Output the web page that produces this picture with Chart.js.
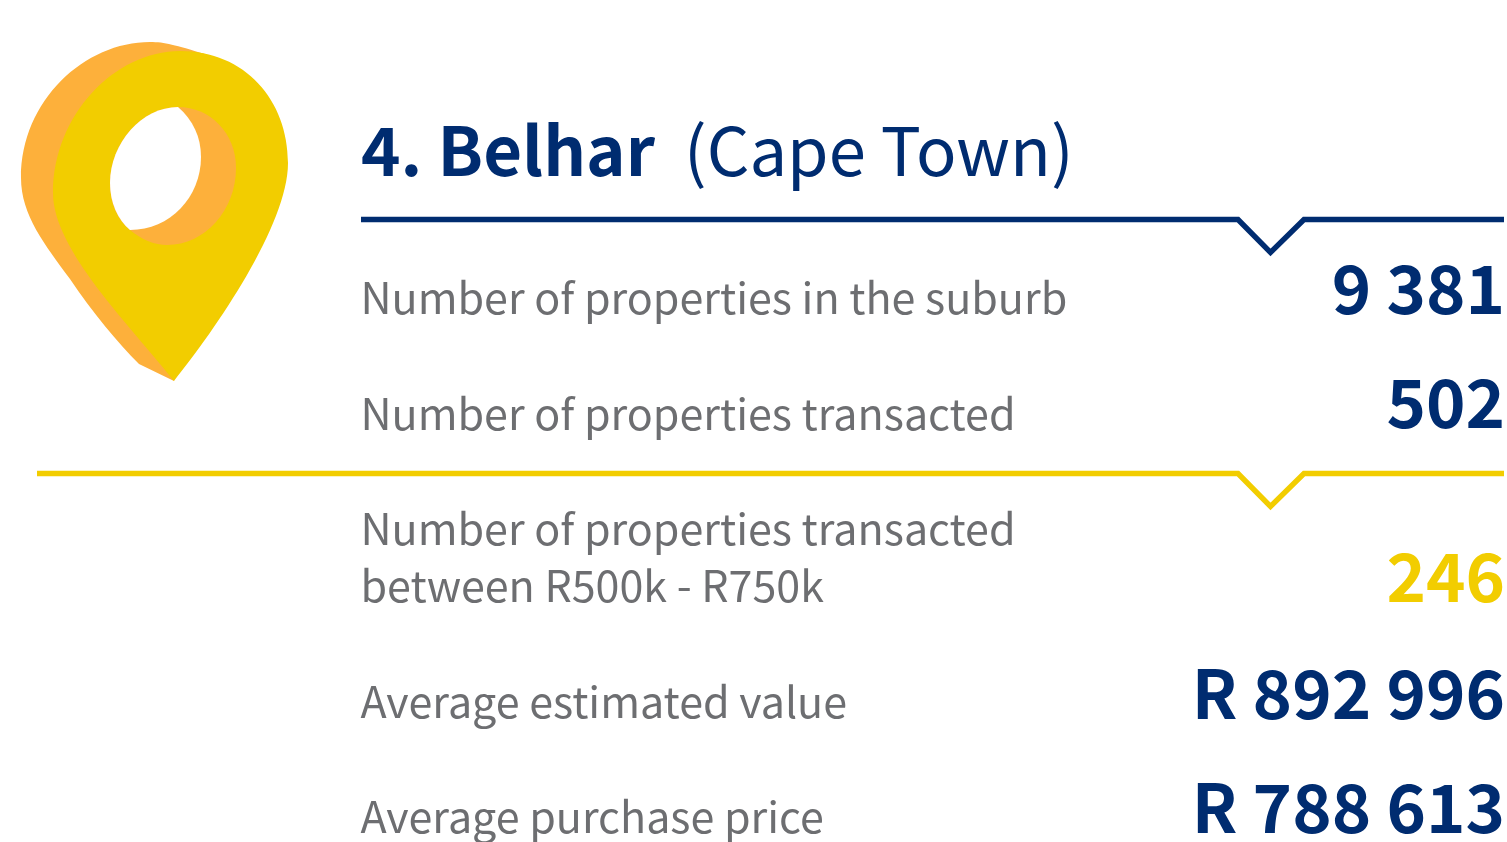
<!DOCTYPE html>
<html>
<head>
<meta charset="utf-8">
<title>Belhar (Cape Town)</title>
<style>
    html, body { margin: 0; padding: 0; background: #ffffff; }
    canvas { display: block; }
</style>
<script src="https://cdn.jsdelivr.net/npm/chart.js@4/dist/chart.umd.min.js"></script>
</head>
<body>
<canvas id="suburbChart" width="1507" height="842"></canvas>
<script>
// data
const titleBold = "4. Belhar";
const titleLight = "(Cape Town)";
const rowLabels = [
    ["Number of properties in the suburb"],
    ["Number of properties transacted"],
    ["Number of properties transacted", "between R500k - R750k"],
    ["Average estimated value"],
    ["Average purchase price"]
];
const rowValues = [9381, 502, 246, 892996, 788613];
const rowIsRand = [false, false, false, true, true];

// layout, in canvas pixels (the y scale below runs 0-842 so values map 1:1)
const labelBaselines = [314, 430, 602, 718, 833];
const valueBaselines = [314, 428, 602, 719, 833];
const lineHeight = 57;
const NAVY = "#002c70";
const YELLOW = "#f2cd00";
const ORANGE = "#fdb03b";
const GREY = "#6d6e71";
const FONT = '"Noto Sans CJK SC", "Noto Sans", sans-serif';

function formatValue(value, isRand) {
    let text = String(value).replace(/\B(?=(\d{3})+$)/g, " ");
    return isRand ? "R " + text : text;
}

function drawDivider(ctx, left, y, color) {
    ctx.beginPath();
    ctx.moveTo(left, y);
    ctx.lineTo(1238, y);
    ctx.lineTo(1270.5, y + 33);
    ctx.lineTo(1304, y);
    ctx.lineTo(1504, y);
    ctx.strokeStyle = color;
    ctx.lineWidth = 5.4;
    ctx.lineJoin = "miter";
    ctx.stroke();
}

function drawPin(ctx) {
    ctx.fillStyle = ORANGE;
    ctx.fill(new Path2D("M174,381 L139,364 C118,343 92,312 70,279 C45,245 21,215 21,178 C21,100 85,42 150,42 C165,42 175,45 205,54 Z"));
    ctx.fillStyle = YELLOW;
    ctx.fill(new Path2D("M174,381 C130,325 53,250 53,193 C53,115 115,51 180,51 C245,51 288,100 288,163 C288,225 215,330 174,381 Z"));
    ctx.fillStyle = ORANGE;
    ctx.fill(new Path2D("M178,107 C142,107 110,143 110,183 C110,205 118,220 130,230 C142,240 155,245 167,245 C205,245 236,210 236,168 C236,133 210,107 178,107 Z"));
    ctx.fillStyle = "#ffffff";
    ctx.fill(new Path2D("M178,107 C142,107 110,143 110,183 C110,203 118,220 130,230 C170,230 201,197 201,157 C201,137 193,120 178,107 Z"));
}

const panelPlugin = {
    id: "panel",
    afterDatasetsDraw(chart) {
        let ctx = chart.ctx;
        let yScale = chart.scales.y;
        ctx.save();
        drawPin(ctx);

        ctx.textBaseline = "alphabetic";
        ctx.textAlign = "left";
        ctx.fillStyle = NAVY;
        ctx.font = "bold 67px " + FONT;
        ctx.fillText(titleBold, 361, 176);
        ctx.font = "normal 67px " + FONT;
        ctx.fillText(titleLight, 684, 176);

        drawDivider(ctx, 361, 219.5, NAVY);
        drawDivider(ctx, 37, 473.5, YELLOW);

        chart.data.datasets[0].data.forEach((point, index) => {
            let lines = rowLabels[index];
            let lastLine = labelBaselines[index];
            ctx.textAlign = "left";
            ctx.fillStyle = GREY;
            ctx.font = "normal 43px " + FONT;
            lines.forEach((line, lineIndex) => {
                let y = yScale.getPixelForValue(lastLine - (lines.length - 1 - lineIndex) * lineHeight);
                ctx.fillText(line, 360.5, y);
            });
            ctx.textAlign = "right";
            ctx.fillStyle = index === 2 ? YELLOW : NAVY;
            ctx.font = "bold 67px " + FONT;
            ctx.fillText(formatValue(point.x, rowIsRand[index]), 1505, yScale.getPixelForValue(point.y));
        });
        ctx.restore();
    }
};

new Chart(document.getElementById("suburbChart"), {
    type: "scatter",
    data: {
        datasets: [{
            label: titleBold,
            data: rowValues.map((value, index) => ({x: value, y: valueBaselines[index]})),
            pointRadius: 0
        }]
    },
    options: {
        responsive: false,
        animation: false,
        layout: {padding: 0},
        scales: {
            x: {type: "logarithmic", display: false},
            y: {min: 0, max: 842, reverse: true, display: false}
        },
        plugins: {
            legend: {display: false},
            title: {display: false},
            tooltip: {enabled: false}
        }
    },
    plugins: [panelPlugin]
});
</script>
</body>
</html>
